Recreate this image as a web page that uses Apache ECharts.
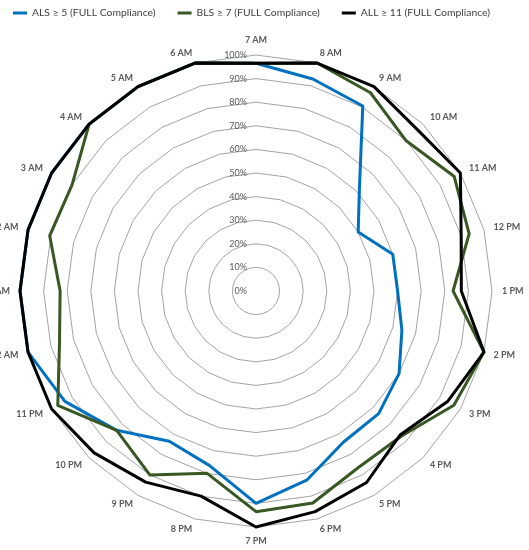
<!DOCTYPE html>
<html>
<head>
<meta charset="utf-8">
<title>Compliance radar</title>
<script src="https://cdn.jsdelivr.net/npm/echarts@6/dist/echarts.min.js"></script>
<style>
  html, body { margin: 0; padding: 0; background: #fff; }
  #chart { width: 529px; height: 550px; }
</style>
</head>
<body>
<div id="chart"></div>
<script>
// clockwise from the top
const hours = [
  "7 AM", "8 AM", "9 AM", "10 AM", "11 AM", "12 PM", "1 PM", "2 PM", "3 PM", "4 PM", "5 PM", "6 PM",
  "7 PM", "8 PM", "9 PM", "10 PM", "11 PM", "12 AM", "1 AM", "2 AM", "3 AM", "4 AM", "5 AM", "6 AM"
];
const als = [0.965, 0.93, 0.905, 0.62, 0.50, 0.60, 0.60, 0.64, 0.70, 0.735, 0.74, 0.83,
             0.90, 0.765, 0.735, 0.835, 0.935, 1, 1, 1, 1, 1, 1, 1];
const bls = [0.965, 1, 0.97, 0.90, 0.97, 0.935, 0.835, 1, 0.968, 0.87, 0.865, 0.93,
             0.935, 0.80, 0.90, 0.835, 0.97, 0.862, 0.83, 0.905, 0.90, 1, 1, 1];
const all = [0.965, 1, 1, 0.967, 1, 0.90, 0.87, 1, 0.937, 0.863, 0.937, 0.968,
             1, 0.90, 0.935, 0.97, 1, 1, 1, 1, 1, 1, 1, 1];
const seriesNames = ["ALS \u2265 5 (FULL Compliance)", "BLS \u2265 7 (FULL Compliance)", "ALL \u2265 11 (FULL Compliance)"];
const colors = ["#0070c0", "#385723", "#000000"];

// radar lays indicators out counter-clockwise, so flip everything after the first
const order = [0].concat(hours.map((_, i) => hours.length - 1 - i).slice(0, hours.length - 1));
const reorder = (arr) => order.map((i) => arr[i]);

const CX = 256, CY = 291, R = 236;
const font = "Lato, 'Open Sans', sans-serif";

const chart = echarts.init(document.getElementById("chart"), null, { renderer: "canvas" });

chart.setOption({
  animation: false,
  color: colors,
  legend: {
    top: 3,
    left: 8,
    itemWidth: 14,
    itemHeight: 3,
    itemGap: 22,
    icon: "rect",
    textStyle: { fontFamily: font, fontSize: 10.4, color: "#404040" },
    data: seriesNames
  },
  radar: {
    center: [CX, CY],
    radius: R,
    startAngle: 90,
    shape: "polygon",
    splitNumber: 10,
    indicator: reorder(hours).map((h) => ({ name: h, min: 0, max: 1 })),
    axisName: { color: "#595959", fontFamily: font, fontSize: 9, fontWeight: "bold" },
    nameGap: 10,
    axisLine: { show: false },
    axisTick: { show: false },
    axisLabel: { show: false },
    splitArea: { show: false },
    splitLine: { lineStyle: { color: "#8c8c8c", width: 0.8 } }
  },
  polar: { center: [CX, CY], radius: R },
  angleAxis: { show: false, startAngle: 90, min: 0, max: 360 },
  radiusAxis: {
    min: 0,
    max: 1,
    interval: 0.1,
    axisLine: { show: false },
    axisTick: { show: false },
    splitLine: { show: false },
    axisLabel: {
      margin: 9,
      color: "#595959",
      fontFamily: font,
      fontSize: 9,
      formatter: (v) => Math.round(v * 100) + "%"
    }
  },
  series: [als, bls, all].map((vals, k) => ({
    type: "radar",
    name: seriesNames[k],
    symbol: "none",
    z: 2 + k,
    lineStyle: { width: 3, color: colors[k] },
    itemStyle: { color: colors[k] },
    data: [{ name: seriesNames[k], value: reorder(vals) }]
  }))
});
</script>
</body>
</html>
